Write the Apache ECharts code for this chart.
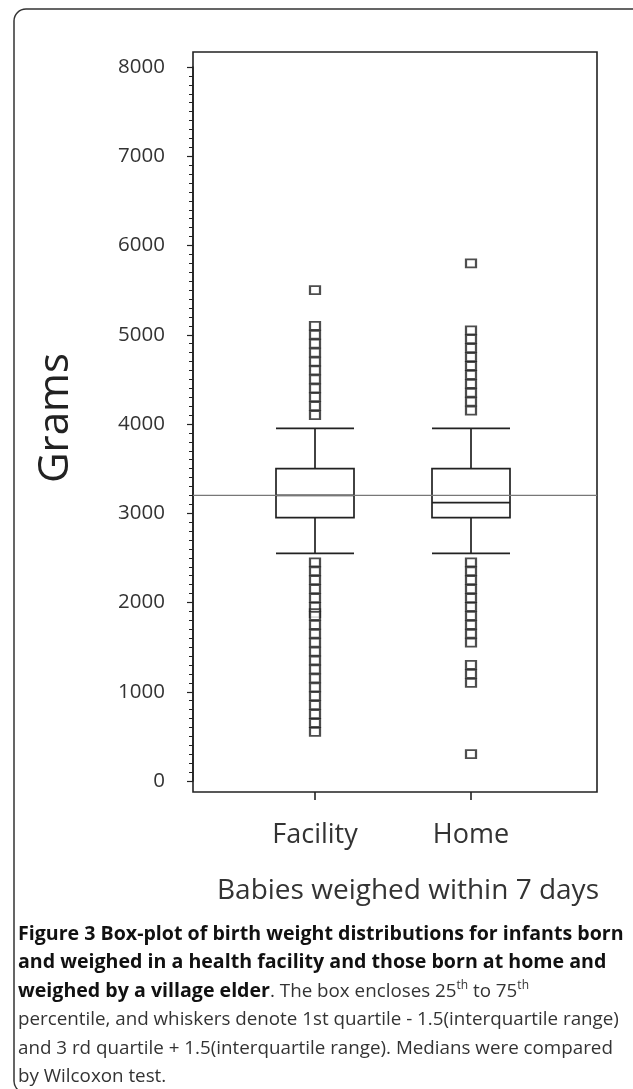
<!DOCTYPE html>
<html>
<head>
<meta charset="utf-8">
<script src="https://cdn.jsdelivr.net/npm/echarts@6/dist/echarts.min.js"></script>
<style>
html,body{margin:0;padding:0;background:#fff;}
#c{width:633px;height:1089px;}
</style>
</head>
<body>
<div id="c"></div>
<script>
const categories = ['Facility', 'Home'];
// [min whisker, Q1, median, Q3, max whisker]
const boxFacility = [2550, 2950, 3200, 3500, 3950];
const boxHome = [2550, 2950, 3120, 3500, 3950];
const outliersFacility = [5500, 5100, 5000, 4900, 4800, 4700, 4600, 4500, 4400, 4300, 4200, 4100,
  2450, 2350, 2250, 2150, 2050, 1950, 1880, 1850, 1750, 1650, 1550, 1450, 1350, 1250, 1150, 1050, 950, 850, 750, 650, 550];
const outliersHome = [5800, 5050, 4950, 4850, 4750, 4650, 4550, 4450, 4350, 4250, 4150,
  2450, 2350, 2250, 2150, 2050, 1950, 1850, 1750, 1650, 1550, 1300, 1200, 1100, 300];
const referenceLine = 3200;
const yMin = 0, yMax = 8000, yStep = 1000;
const yName = 'Grams';
const xName = 'Babies weighed within 7 days';

const outlierData = outliersFacility.map(v => [0, v]).concat(outliersHome.map(v => [1, v]));

const chart = echarts.init(document.getElementById('c'), null, {renderer: 'canvas'});
const ink = '#222';
const option = {
  animation: false,
  backgroundColor: '#fff',
  grid: [
    {left: 193, top: 52, width: 404, height: 740, show: true, borderColor: ink, borderWidth: 1.6, backgroundColor: 'transparent'},
    {left: 193, top: 67, width: 404, height: 714},
    {left: 237, top: 67, width: 312, height: 714},
    {left: 237, top: 52, width: 312, height: 740}
  ],
  xAxis: [
    {gridIndex: 0, type: 'value', min: 0, max: 1, show: false},
    {gridIndex: 1, type: 'value', min: 0, max: 1, show: false},
    {gridIndex: 2, type: 'category', data: categories, show: false},
    {gridIndex: 3, type: 'category', data: categories,
      axisLine: {show: false},
      axisTick: {show: true, alignWithLabel: true, length: 8, lineStyle: {color: ink, width: 1.6}},
      axisLabel: {fontFamily: 'Open Sans', fontSize: 27, color: '#333', margin: 30},
      splitLine: {show: false}}
  ],
  yAxis: [
    {gridIndex: 0, type: 'value', min: 0, max: 1, show: false},
    {gridIndex: 1, type: 'value', min: yMin, max: yMax, show: false},
    {gridIndex: 2, type: 'value', min: yMin, max: yMax, interval: yStep, offset: 44,
      axisLine: {show: true, lineStyle: {color: ink, width: 1.6}},
      axisTick: {show: true, length: 6, lineStyle: {color: ink, width: 1.2}},
      minorTick: {show: true, splitNumber: 10, length: 4, lineStyle: {color: ink, width: 1}},
      splitLine: {show: false}, minorSplitLine: {show: false},
      axisLabel: {fontFamily: 'Open Sans', fontSize: 20.5, color: '#333', margin: 28,
        formatter: v => String(v)}},
    {gridIndex: 3, type: 'value', min: 0, max: 1, show: false}
  ],
  series: [
    {type: 'boxplot', xAxisIndex: 2, yAxisIndex: 2, data: [boxFacility, boxHome],
      boxWidth: [78, 78],
      itemStyle: {color: '#fff', borderColor: ink, borderWidth: 1.7},
      z: 2},
    {type: 'line', xAxisIndex: 1, yAxisIndex: 1, data: [[0, referenceLine], [1, referenceLine]],
      symbol: 'none', lineStyle: {color: '#777', width: 1.2}, z: 3, silent: true},
    {type: 'scatter', xAxisIndex: 2, yAxisIndex: 2, data: outlierData,
      symbol: 'rect', symbolSize: [10, 8],
      itemStyle: {color: '#fff', borderColor: ink, borderWidth: 2}, z: 4}
  ],
  graphic: [
    {type: 'rect', shape: {x: 14, y: 9, width: 640, height: 1084, r: 12}, style: {fill: 'none', stroke: '#333', lineWidth: 1.5}, z: 0},
    {type: 'text', x: 56, y: 418, rotation: Math.PI / 2,
      style: {text: yName, font: '42px "Open Sans"', fill: ink, textAlign: 'center', textVerticalAlign: 'middle'}},
    {type: 'text', x: 408, y: 891,
      style: {text: xName, font: '28px "Open Sans"', fill: '#333', textAlign: 'center', textVerticalAlign: 'middle'}},
    {type: 'text', x: 18, y: 920,
      style: {
        text: '{b|Figure 3 Box-plot of birth weight distributions for infants born}\n' +
              '{b|and weighed in a health facility and those born at home and}\n' +
              '{b|weighed by a village elder}{n|. The box encloses 25}{s|th}{n| to 75}{s|th}\n' +
              '{n|percentile, and whiskers denote 1st quartile - 1.5(interquartile range)}\n' +
              '{n|and 3 rd quartile + 1.5(interquartile range). Medians were compared}\n' +
              '{n|by Wilcoxon test.}',
        textVerticalAlign: 'top',
        rich: {
          b: {fontFamily: 'Open Sans', fontWeight: 'bold', fontSize: 19.6, fill: '#111', lineHeight: 28.5},
          n: {fontFamily: 'Open Sans', fontSize: 18.8, fill: '#333', lineHeight: 28.5},
          s: {fontFamily: 'Open Sans', fontSize: 12, fill: '#333', lineHeight: 28.5, verticalAlign: 'top', padding: [3, 0, 0, 0]}
        }
      }}
  ]
};
chart.setOption(option);
</script>
</body>
</html>
